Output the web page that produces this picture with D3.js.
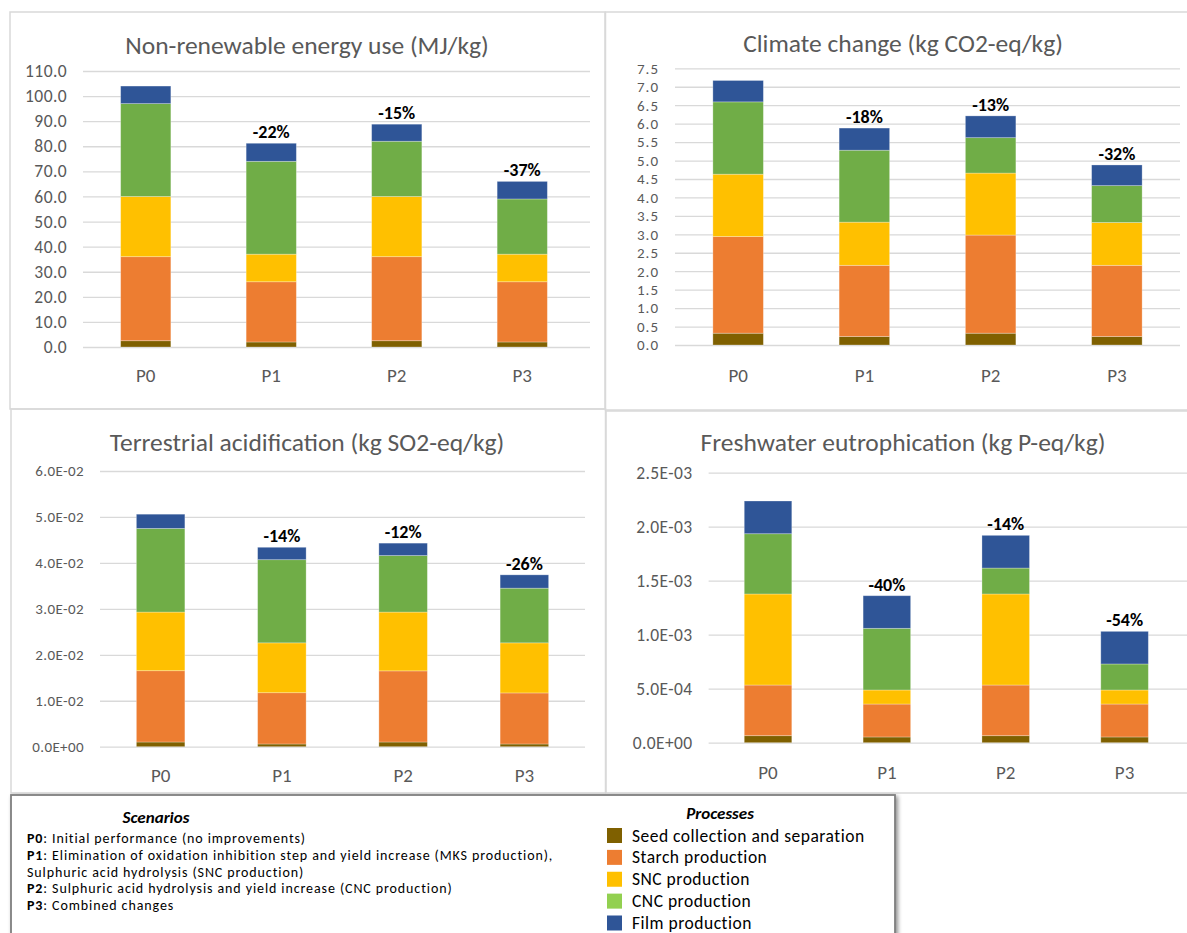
<!DOCTYPE html>
<html>
<head>
<meta charset="utf-8">
<script src="https://cdn.jsdelivr.net/npm/d3@7"></script>
<style>
  html, body { margin: 0; padding: 0; background: #fff; }
  svg { display: block; font-family: Carlito, Lato, "Open Sans", sans-serif; }
</style>
</head>
<body>
<svg id="chart" width="1187" height="933"></svg>
<script>
// --- data
const scenarios = ["P0", "P1", "P2", "P3"];
const processes = ["Seed collection and separation", "Starch production", "SNC production", "CNC production", "Film production"];
const barColors = ["#7f6000", "#ed7d31", "#ffc000", "#70ad47", "#2f5597"];
const legendColors = ["#7f6000", "#ed7d31", "#ffc000", "#92d050", "#2f5597"];

// Non-renewable energy use (MJ/kg), one row per process
const nreValues = [
  [2.5, 2.0, 2.5, 2.0],
  [33.5, 24.0, 33.5, 24.0],
  [24.0, 11.0, 24.0, 11.0],
  [37.0, 37.0, 22.0, 22.0],
  [7.0, 7.2, 6.8, 7.0]
];
const nreChange = ["", "-22%", "-15%", "-37%"];
const nreTicks = [0, 10, 20, 30, 40, 50, 60, 70, 80, 90, 100, 110];

// Climate change (kg CO2-eq/kg)
const ccValues = [
  [0.32, 0.23, 0.32, 0.23],
  [2.62, 1.93, 2.66, 1.93],
  [1.69, 1.17, 1.68, 1.16],
  [1.96, 1.95, 0.96, 1.00],
  [0.58, 0.60, 0.59, 0.56]
];
const ccChange = ["", "-18%", "-13%", "-32%"];
const ccTicks = [0, 0.5, 1.0, 1.5, 2.0, 2.5, 3.0, 3.5, 4.0, 4.5, 5.0, 5.5, 6.0, 6.5, 7.0, 7.5];

// Terrestrial acidification (kg SO2-eq/kg)
const taValues = [
  [0.00102, 0.00059, 0.00102, 0.00059],
  [0.01552, 0.01116, 0.01548, 0.01111],
  [0.01276, 0.01085, 0.01280, 0.01090],
  [0.01820, 0.01810, 0.01230, 0.01190],
  [0.00310, 0.00270, 0.00270, 0.00290]
];
const taChange = ["", "-14%", "-12%", "-26%"];
const taTicks = [0, 0.01, 0.02, 0.03, 0.04, 0.05, 0.06];

// Freshwater eutrophication (kg P-eq/kg)
const feValues = [
  [0.000065, 0.000053, 0.000065, 0.000053],
  [0.000469, 0.000305, 0.000469, 0.000305],
  [0.000843, 0.000130, 0.000843, 0.000130],
  [0.000558, 0.000571, 0.000240, 0.000241],
  [0.000303, 0.000302, 0.000303, 0.000302]
];
const feChange = ["", "-40%", "-14%", "-54%"];
const feTicks = [0, 0.0005, 0.001, 0.0015, 0.002, 0.0025];

const scenarioNotes = [
  ["P0", ": Initial performance (no improvements)"],
  ["P1", ": Elimination of oxidation inhibition step and yield increase (MKS production),"],
  ["", "Sulphuric acid hydrolysis (SNC production)"],
  ["P2", ": Sulphuric acid hydrolysis and yield increase (CNC production)"],
  ["P3", ": Combined changes"]
];

// --- helpers
const fmtSci = v => {
  const [m, e] = v.toExponential(1).split("e");
  const n = Math.abs(+e);
  return `${m}E${+e < 0 ? "-" : "+"}${String(n).padStart(2, "0")}`;
};
const fmtDec = d3.format(".1f");

const svg = d3.select("#chart");
const GRID = "#d9d9d9", TXT = "#595959";

// panel frames
[[10, 12, 595, 397], [605.5, 12, 600, 398], [11, 409, 594.5, 384], [606, 411, 600, 382]].forEach(([x, y, w, h]) => {
  svg.append("rect").attr("x", x).attr("y", y).attr("width", w).attr("height", h)
    .attr("fill", "none").attr("stroke", GRID).attr("stroke-width", 1.5);
});

function drawPanel(cfg) {
  const { title, values, change, ticks, fmt, x0, x1, y0, y1, titleX, titleY, labelY } = cfg;
  const g = svg.append("g");

  const x = d3.scaleBand().domain(scenarios).range([x0, x1]).paddingInner(0.6).paddingOuter(0.3);
  const y = d3.scaleLinear().domain([0, ticks[ticks.length - 1]]).range([y0, y1]);

  g.append("text").attr("x", titleX).attr("y", titleY).attr("text-anchor", "middle")
    .attr("dominant-baseline", "central").attr("fill", TXT).style("font-size", "25.5px").text(title);

  // grid + y labels through an axis
  const yAxis = d3.axisLeft(y).tickValues(ticks).tickFormat(fmt).tickSize(-(cfg.gridEnd - x0)).tickPadding(16);
  g.append("g").attr("transform", `translate(${x0},0)`).call(yAxis)
    .call(a => a.select(".domain").remove())
    .call(a => a.selectAll(".tick line").attr("stroke", GRID).attr("stroke-width", 1.3))
    .call(a => a.selectAll(".tick text").attr("fill", TXT).style("font-size", cfg.tickSize)
      .style("letter-spacing", cfg.tickSpacing || "0.4px").style("font-family", "Carlito, Lato, sans-serif"));

  // stacked bars
  const rows = scenarios.map((s, i) => {
    const r = { s };
    processes.forEach((p, k) => { r[p] = values[k][i]; });
    return r;
  });
  const series = d3.stack().keys(processes)(rows);
  g.selectAll("g.layer").data(series).join("g").attr("class", "layer")
    .attr("fill", (d, k) => barColors[k])
    .selectAll("rect").data(d => d).join("rect")
    .attr("x", d => x(d.data.s)).attr("width", x.bandwidth())
    .attr("y", d => y(d[1])).attr("height", d => y(d[0]) - y(d[1]))
    .attr("stroke", "#ffffff").attr("stroke-opacity", 0.35).attr("stroke-width", 0.8);

  // change labels
  const totals = rows.map(r => d3.sum(processes, p => r[p]));
  g.selectAll("text.chg").data(scenarios).join("text").attr("class", "chg")
    .attr("x", d => x(d) + x.bandwidth() / 2).attr("y", (d, i) => y(totals[i]) - 11)
    .attr("text-anchor", "middle").attr("dominant-baseline", "central")
    .style("font-size", "18px").style("font-weight", "bold").attr("fill", "#000")
    .text((d, i) => change[i]);

  // category axis
  const xAxis = d3.axisBottom(x).tickSize(0).tickPadding(0);
  g.append("g").attr("transform", `translate(0,${labelY})`).call(xAxis)
    .call(a => a.select(".domain").remove())
    .call(a => a.selectAll(".tick text").attr("fill", TXT).attr("dy", "0.35em")
      .style("font-size", "19px").style("font-family", "Carlito, Lato, sans-serif"));
}

drawPanel({ title: "Non-renewable energy use (MJ/kg)", values: nreValues, change: nreChange, ticks: nreTicks, fmt: fmtDec,
  x0: 83, x1: 585, gridEnd: 590, y0: 347, y1: 71, titleX: 307, titleY: 45, labelY: 375, tickSize: "17.5px" });
drawPanel({ title: "Climate change (kg CO2-eq/kg)", values: ccValues, change: ccChange, ticks: ccTicks, fmt: fmtDec,
  x0: 675, x1: 1180, gridEnd: 1180, y0: 345, y1: 68.3, titleX: 903, titleY: 43, labelY: 375,
  tickSize: "15px", tickSpacing: "1px" });
drawPanel({ title: "Terrestrial acidification (kg SO2-eq/kg)", values: taValues, change: taChange, ticks: taTicks, fmt: fmtSci,
  x0: 100, x1: 585, gridEnd: 585, y0: 746.7, y1: 471, titleX: 307, titleY: 442, labelY: 775, tickSize: "15px" });
drawPanel({ title: "Freshwater eutrophication (kg P-eq/kg)", values: feValues, change: feChange, ticks: feTicks, fmt: fmtSci,
  x0: 708.6, x1: 1184, gridEnd: 1187, y0: 742.7, y1: 472.7, titleX: 903, titleY: 442, labelY: 772, tickSize: "17.5px" });

// --- legend box
const defs = svg.append("defs");
const f = defs.append("filter").attr("id", "shadow").attr("x", "-5%").attr("y", "-5%").attr("width", "110%").attr("height", "120%");
f.append("feGaussianBlur").attr("in", "SourceAlpha").attr("stdDeviation", 2);
f.append("feOffset").attr("dx", 2).attr("dy", 2).attr("result", "b");
f.append("feComponentTransfer").append("feFuncA").attr("type", "linear").attr("slope", 0.45);
const m = f.append("feMerge");
m.append("feMergeNode");
m.append("feMergeNode").attr("in", "SourceGraphic");

const leg = svg.append("g");
leg.append("rect").attr("x", 11).attr("y", 795).attr("width", 884).attr("height", 150)
  .attr("fill", "#fff").attr("stroke", "#7f7f7f").attr("stroke-width", 1.8).attr("filter", "url(#shadow)");

leg.append("text").attr("x", 156).attr("y", 817).attr("text-anchor", "middle").attr("dominant-baseline", "central")
  .style("font-size", "17px").style("font-weight", "bold").style("font-style", "italic").attr("fill", "#000").text("Scenarios");

const noteY = d3.scalePoint().domain(d3.range(scenarioNotes.length)).range([838, 905]);
scenarioNotes.forEach(([b, rest], i) => {
  const t = leg.append("text").attr("x", 27).attr("y", noteY(i)).attr("dominant-baseline", "central")
    .style("font-size", "14px").style("letter-spacing", "0.9px").attr("fill", "#000");
  if (b) t.append("tspan").style("font-weight", "bold").text(b);
  t.append("tspan").text(rest);
});

leg.append("text").attr("x", 720).attr("y", 813).attr("text-anchor", "middle").attr("dominant-baseline", "central")
  .style("font-size", "17px").style("font-weight", "bold").style("font-style", "italic").attr("fill", "#000").text("Processes");

const procY = d3.scalePoint().domain(processes).range([835.5, 923]);
processes.forEach((p, k) => {
  leg.append("rect").attr("x", 607).attr("y", procY(p) - 7.5).attr("width", 15).attr("height", 15).attr("fill", legendColors[k]);
  leg.append("text").attr("x", 632).attr("y", procY(p)).attr("dominant-baseline", "central")
    .style("font-size", "17.5px").style("letter-spacing", "0.5px").attr("fill", "#000").text(p);
});
</script>
</body>
</html>
